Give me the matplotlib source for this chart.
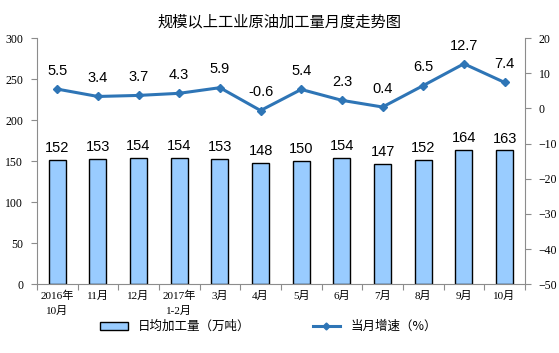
import matplotlib
matplotlib.use("Agg")
import matplotlib.pyplot as plt
import numpy as np
from matplotlib.lines import Line2D
from matplotlib.patches import Patch

plt.rcParams["font.family"] = ["Liberation Sans", "Noto Sans CJK SC"]

months = ["2016年\n10月", "11月", "12月", "2017年\n1-2月", "3月", "4月",
          "5月", "6月", "7月", "8月", "9月", "10月"]
daily_output = [152, 153, 154, 154, 153, 148, 150, 154, 147, 152, 164, 163]
growth_rate = [5.5, 3.4, 3.7, 4.3, 5.9, -0.6, 5.4, 2.3, 0.4, 6.5, 12.7, 7.4]

BAR_COLOR = "#99CCFF"
LINE_COLOR = "#2E75B6"
AXIS_GREY = "#8C8C8C"
TICK_FONT = ["Liberation Serif", "Noto Sans CJK SC"]

fig = plt.figure(figsize=(5.59, 3.53), dpi=100)
ax = fig.add_axes([0.066, 0.195, 0.873, 0.697])
ax2 = ax.twinx()

x = np.arange(len(months))
ax.bar(x, daily_output, width=0.42, color=BAR_COLOR, edgecolor="black", linewidth=1.0, zorder=2)
for xi, v in zip(x, daily_output):
    ax.text(xi, v + 6, f"{v}", ha="center", va="bottom", fontsize=10.5, color="black")

ax2.plot(x, growth_rate, color=LINE_COLOR, linewidth=2.2, marker="D", markersize=4.5,
         markerfacecolor=LINE_COLOR, markeredgecolor=LINE_COLOR, zorder=3)
for xi, v in zip(x, growth_rate):
    ax2.text(xi, v + 3.2, f"{v}", ha="center", va="bottom", fontsize=10.5, color="black")

ax.set_xlim(-0.5, len(months) - 0.5)
ax.set_ylim(0, 300)
ax.set_yticks(range(0, 301, 50))
ax2.set_ylim(-50, 20)
ax2.set_yticks(range(-50, 21, 10))

# category labels between boundary ticks
ax.set_xticks(np.arange(-0.5, len(months), 1.0))
ax.set_xticklabels([])
ax.set_xticks(x, minor=True)
ax.set_xticklabels(months, minor=True, fontsize=8, family=TICK_FONT, linespacing=1.5)
ax.tick_params(axis="x", which="major", length=4, direction="out", color=AXIS_GREY)
ax.tick_params(axis="x", which="minor", length=0, pad=5)

for a in (ax, ax2):
    a.spines["top"].set_visible(False)
    for s in ("left", "right", "bottom"):
        a.spines[s].set_color(AXIS_GREY)
ax.spines["right"].set_visible(False)
ax2.spines["left"].set_visible(False)
ax2.spines["bottom"].set_visible(False)

ax.tick_params(axis="y", length=4, color=AXIS_GREY, labelsize=8.5, pad=6)
ax2.tick_params(axis="y", length=4, color=AXIS_GREY, labelsize=8.5, pad=6)
for lab in ax.get_yticklabels() + ax2.get_yticklabels():
    lab.set_family("Liberation Serif")

fig.text(0.5, 0.938, "规模以上工业原油加工量月度走势图", ha="center", va="center",
         fontsize=11, family=["Noto Sans CJK SC", "DejaVu Sans"])

handles = [Patch(facecolor=BAR_COLOR, edgecolor="black", linewidth=1.0),
           Line2D([0], [0], color=LINE_COLOR, linewidth=2.2, marker="D", markersize=3.5)]
fig.legend(handles, ["日均加工量（万吨）", "当月增速（%）"], loc="center",
           bbox_to_anchor=(0.48, 0.075), ncol=2, frameon=False,
           columnspacing=5, handlelength=2.2, handleheight=0.6,
           prop={"family": ["Noto Sans CJK SC", "DejaVu Sans"], "size": 9})

fig.savefig("out.png", dpi=100)
